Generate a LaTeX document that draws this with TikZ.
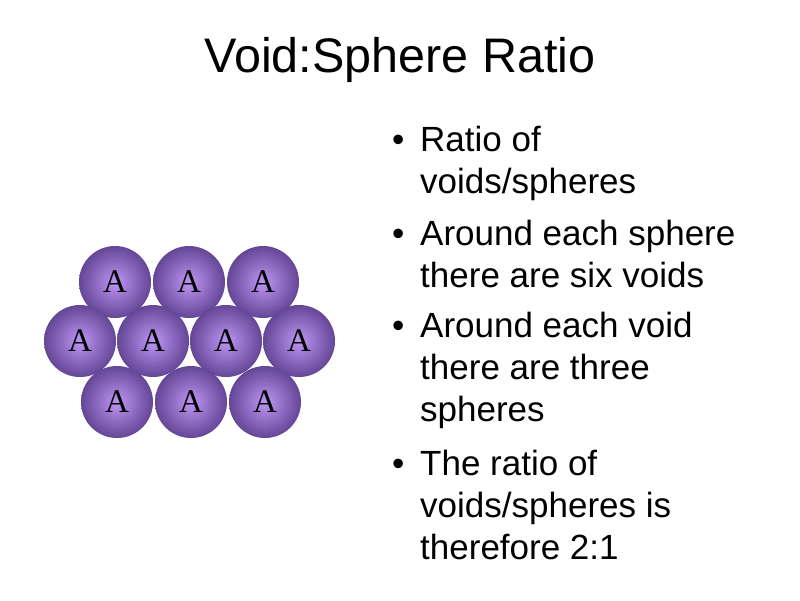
\documentclass[tikz,border=0pt]{standalone}
\usepackage{fontspec}
\setmainfont{Liberation Sans}
\newfontfamily\serifA{Liberation Serif}
\begin{document}
\begin{tikzpicture}[x=1pt,y=-1pt,
  ball/.style={circle,minimum size=72pt,inner sep=0pt,draw=none,shading=radial,inner color={rgb,255:red,190;green,150;blue,245},outer color={rgb,255:red,100;green,70;blue,150},font=\serifA\fontsize{33}{33}\selectfont},
  bul/.style={anchor=base west,font=\fontsize{35}{35}\selectfont}]
\useasboundingbox (0,0) rectangle (800,600);
\node (t) at (400,60) {\fontsize{48.5}{48.5}\selectfont Void:Sphere Ratio};
\foreach \x/\n in {115/a1,189/a2,263/a3}{\node[ball] (\n) at (\x,282) {A};}
\foreach \x/\n in {80/b1,153/b2,226/b3,299/b4}{\node[ball] (\n) at (\x,341) {A};}
\foreach \x/\n in {117/c1,191/c2,265/c3}{\node[ball] (\n) at (\x,402) {A};}
\foreach \y/\txt/\b in {151/{Ratio of}/1, 193/{voids/spheres}/0, 245/{Around each sphere}/1, 287/{there are six voids}/0, 337/{Around each void}/1, 379/{there are three}/0, 421/{spheres}/0, 475/{The ratio of}/1, 517/{voids/spheres is}/0, 559/{therefore 2:1}/0}{
  \node[bul,inner sep=0pt] at (420,\y) {\txt};
  \ifnum\b=1 \node[bul,inner sep=0pt] at (392,\y) {•};\fi}
\end{tikzpicture}
\end{document}
